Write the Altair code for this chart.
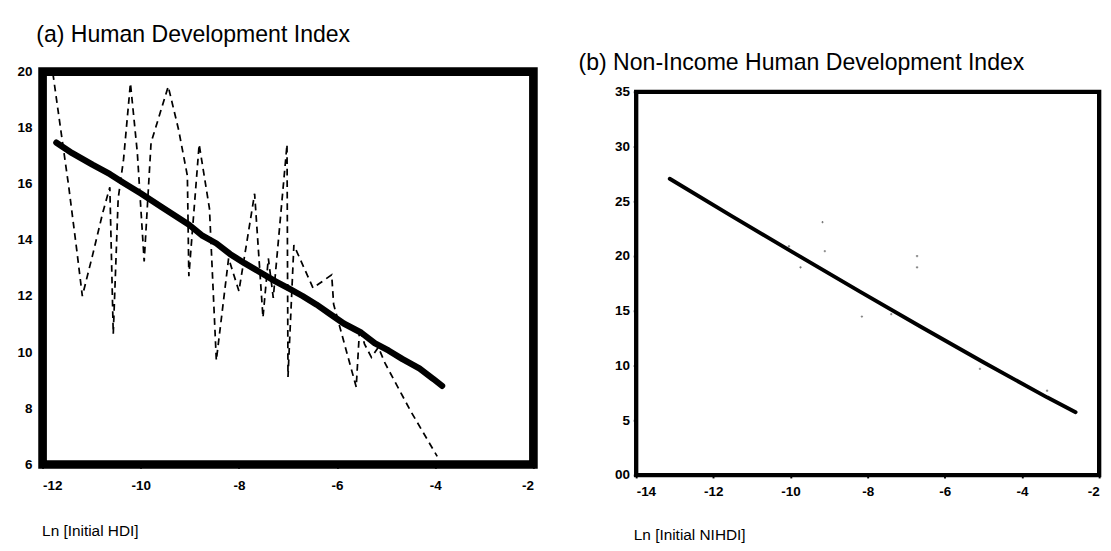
import altair as alt
import pandas as pd

# ---------------- Panel (a): Human Development Index ----------------
a_fit_x = [-11.72, -11.40, -10.98, -10.63, -10.35, -10.00, -9.58, -9.02, -8.74, -8.46,
           -8.18, -7.89, -7.54, -7.26, -6.98, -6.70, -6.42, -6.14, -5.86, -5.51,
           -5.23, -4.95, -4.67, -4.32, -4.04, -3.86]
a_fit_y = [17.47, 17.10, 16.68, 16.35, 16.04, 15.66, 15.18, 14.55, 14.15, 13.88,
           13.50, 13.18, 12.82, 12.53, 12.27, 12.00, 11.70, 11.36, 11.02, 10.70,
           10.32, 10.06, 9.76, 9.42, 9.05, 8.80]

a_obs_x = [-11.79, -11.65, -11.47, -11.30, -11.19, -10.98, -10.77, -10.63, -10.56, -10.46,
           -10.35, -10.21, -10.07, -9.93, -9.79, -9.44, -9.23, -9.05, -9.02, -8.81,
           -8.60, -8.46, -8.21, -8.00, -7.68, -7.51, -7.40, -7.30, -7.02, -7.00,
           -6.88, -6.49, -6.11, -6.07, -5.61, -5.54, -5.44, -5.30, -5.16, -5.02,
           -4.50, -3.96]
a_obs_y = [19.94, 18.18, 15.94, 13.59, 12.00, 13.47, 15.00, 15.88, 10.65, 15.47,
           16.88, 19.59, 17.12, 13.24, 17.47, 19.47, 17.94, 16.29, 12.71, 17.41,
           15.12, 9.71, 13.35, 12.18, 15.65, 11.24, 13.35, 11.94, 17.41, 9.12,
           13.82, 12.29, 12.76, 11.71, 8.76, 10.88, 10.29, 9.82, 10.18, 9.60,
           7.90, 6.29]

a_x_ticks = [-12, -10, -8, -6, -4, -2]
a_y_ticks = [6, 8, 10, 12, 14, 16, 18, 20]

# ---------------- Panel (b): Non-Income HDI ----------------
b_fit_x = [-13.13, -11.50, -9.87, -8.20, -6.60, -5.00, -3.35, -2.61]
b_fit_y = [27.06, 23.60, 20.20, 16.75, 13.50, 10.30, 7.10, 5.74]

b_obs_x = [-10.04, -9.74, -9.17, -9.11, -8.15, -7.39, -6.72, -6.72, -5.09, -3.35]
b_obs_y = [20.90, 18.97, 23.10, 20.45, 14.47, 14.70, 20.00, 18.97, 9.70, 7.70]

b_x_ticks = [-14, -12, -10, -8, -6, -4, -2]
b_y_ticks = [0, 5, 10, 15, 20, 25, 30, 35]

FONT = "Liberation Sans, Arial, Helvetica, sans-serif"

df_a_fit = pd.DataFrame({"x": a_fit_x, "y": a_fit_y})
df_a_obs = pd.DataFrame({"x": a_obs_x, "y": a_obs_y})
df_b_fit = pd.DataFrame({"x": b_fit_x, "y": b_fit_y})
df_b_obs = pd.DataFrame({"x": b_obs_x, "y": b_obs_y})


def xaxis(values, title, tick, pad, tx, ty):
    return alt.Axis(values=values, labelExpr="'' + datum.value", title=title,
                    grid=False, domain=False, tickSize=tick, tickColor="black", tickWidth=2,
                    labelPadding=pad, labelFontSize=14, labelFontWeight="bold",
                    labelFont=FONT, labelColor="black",
                    titleFont=FONT, titleFontSize=16, titleFontWeight="normal",
                    titleColor="black", titleAnchor="start", titleAlign="left",
                    titleBaseline="top", titleX=tx, titleY=ty)


def yaxis(values, tick, pad, expr="'' + datum.value"):
    return alt.Axis(values=values, labelExpr=expr, title=None,
                    grid=False, domain=False, tickSize=tick, tickColor="black", tickWidth=2,
                    labelPadding=pad, labelFontSize=14, labelFontWeight="bold",
                    labelFont=FONT, labelColor="black")


xa = alt.X("x:Q", scale=alt.Scale(domain=[-12, -2], nice=False, zero=False),
           axis=xaxis(a_x_ticks, "Ln [Initial HDI]", 4, 11, -1, 61))
ya = alt.Y("y:Q", scale=alt.Scale(domain=[6, 20], nice=False, zero=False),
           axis=yaxis(a_y_ticks, 4, 7))

a_dash = alt.Chart(df_a_obs).mark_line(
    color="black", strokeWidth=1.8, strokeDash=[7, 5], clip=True
).encode(x=xa, y=ya)
a_line = alt.Chart(df_a_fit).mark_line(
    color="black", strokeWidth=6.5, strokeCap="round", strokeJoin="round"
).encode(x=xa, y=ya)

panel_a = alt.layer(a_dash, a_line).properties(
    width=511, height=409,
    title=alt.TitleParams("(a) Human Development Index", anchor="start", font=FONT,
                          fontSize=24, fontWeight="normal", color="black",
                          offset=19, dx=20),
    view=alt.ViewBackground(stroke="black", strokeWidth=9),
)

xb = alt.X("x:Q", scale=alt.Scale(domain=[-14, -2], nice=False, zero=False),
           axis=xaxis(b_x_ticks, "Ln [Initial NIHDI]", 3, 7, -3, 54))
yb = alt.Y("y:Q", scale=alt.Scale(domain=[0, 35], nice=False, zero=False),
           axis=yaxis(b_y_ticks, 3, 4, "datum.value == 0 ? '00' : '' + datum.value"))

b_pts = alt.Chart(df_b_obs).mark_point(
    shape="cross", size=6, color="#555555", filled=True, opacity=0.8
).encode(x=xb, y=yb)
b_line = alt.Chart(df_b_fit).mark_line(
    color="black", strokeWidth=4, strokeCap="round", strokeJoin="round"
).encode(x=xb, y=yb)

panel_b = alt.layer(b_pts, b_line).properties(
    width=482, height=399,
    view=alt.ViewBackground(stroke="black", strokeWidth=4.5),
)

# invisible strip above panel (b): it carries the panel title and lowers the frame
spacer_b = alt.Chart(pd.DataFrame({"x": [0]})).mark_point(opacity=0).properties(
    width=482, height=10,
    title=alt.TitleParams("(b) Non-Income Human Development Index", anchor="start",
                          font=FONT, fontSize=24, fontWeight="normal", color="black",
                          offset=0, dx=-60, dy=3),
    view=alt.ViewBackground(stroke="transparent", fill="transparent"),
)

chart = alt.hconcat(
    panel_a,
    alt.vconcat(spacer_b, panel_b, spacing=0),
    spacing=40,
).properties(
    padding={"left": 4, "top": 0, "right": 0, "bottom": 0},
    background="white",
)

chart.save("out.html", embed_options={"renderer": "svg", "actions": False})
